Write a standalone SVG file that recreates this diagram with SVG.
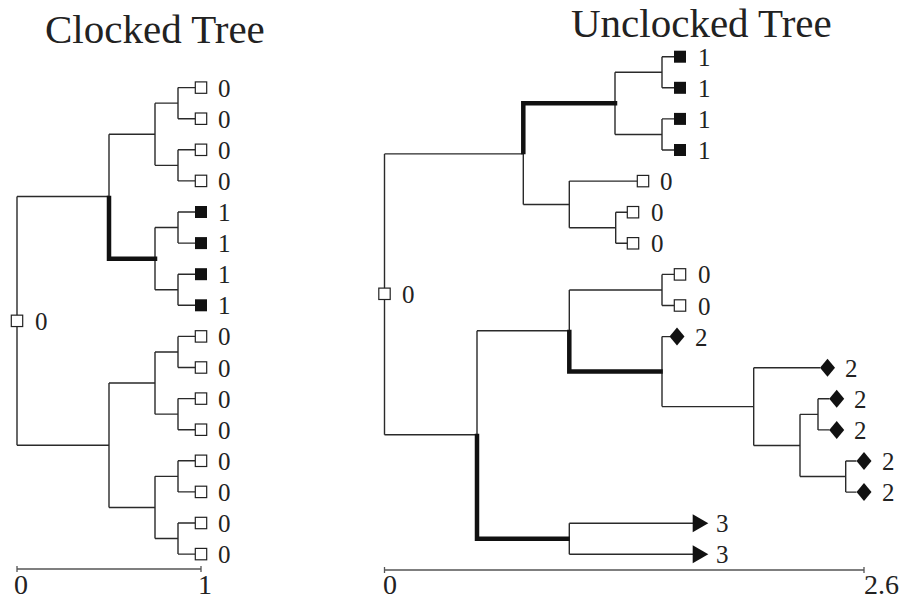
<svg xmlns="http://www.w3.org/2000/svg" width="907" height="601" viewBox="0 0 907 601">
<style>
.e{stroke:#2a2a2a;stroke-width:1.4;fill:none}
.t{stroke:#111;stroke-width:4.5;fill:none;stroke-linejoin:miter;stroke-linecap:square}
.ax{stroke:#555;stroke-width:1.3;fill:none}
.ob{fill:#fff;stroke:#222;stroke-width:1.2}
.fb{fill:#111}
.lbl{font-family:"Liberation Serif","DejaVu Serif",serif;font-size:25px;fill:#222}
.axl{font-family:"Liberation Serif","DejaVu Serif",serif;font-size:28px;fill:#222}
.ttl{font-family:"Liberation Serif","DejaVu Serif",serif;font-size:41px;fill:#222}
</style>
<defs>
<rect id="ob" class="ob" x="-5.7" y="-5.7" width="11.4" height="11.4"/>
<rect id="fb" class="fb" x="-6" y="-6" width="12" height="12"/>
<polygon id="dm" class="fb" points="0,-9 7.5,0 0,9 -7.5,0"/>
<polygon id="tr" class="fb" points="0,-9 15.6,0 0,9"/>
</defs>

<text class="ttl" x="45" y="43">Clocked Tree</text>
<text class="ttl" x="571" y="37">Unclocked Tree</text>

<g id="connectors">
<!-- left tree -->
<path class="e" d="M17 196.45V445.25M17 196.45H109M17 445.25H109"/>
<path class="e" d="M109 134.25V258.65M109 134.25H155M109 383.05V507.45M109 383.05H155M109 507.45H155"/>
<path class="e" d="M155 103.15V165.35M155 103.15H178M155 165.35H178"/>
<path class="e" d="M155 227.55V289.75M155 227.55H178M155 289.75H178"/>
<path class="e" d="M155 351.95V414.15M155 351.95H178M155 414.15H178"/>
<path class="e" d="M155 476.35V538.55M155 476.35H178M155 538.55H178"/>
<path class="e" d="M178 87.6V118.7M178 87.6H195.3M178 118.7H195.3M178 149.8V180.9M178 149.8H195.3M178 180.9H195.3"/>
<path class="e" d="M178 212V243.1M178 212H195.3M178 243.1H195.3M178 274.2V305.3M178 274.2H195.3M178 305.3H195.3"/>
<path class="e" d="M178 336.4V367.5M178 336.4H195.3M178 367.5H195.3M178 398.6V429.7M178 398.6H195.3M178 429.7H195.3"/>
<path class="e" d="M178 460.8V491.9M178 460.8H195.3M178 491.9H195.3M178 523V554.1M178 523H195.3M178 554.1H195.3"/>
<path class="t" d="M109 198V258.65H155"/>
<!-- right tree -->
<path class="e" d="M384.5 153.9V434.8M384.5 153.9H523.3M384.5 434.8H477"/>
<path class="e" d="M523.3 103.35V204.45M523.3 204.45H569.3"/>
<path class="e" d="M615 72.25V134.45M615 72.25H662M615 134.45H662"/>
<path class="e" d="M662 56.7V87.8M662 56.7H674M662 87.8H674M662 118.9V150M662 118.9H674M662 150H674"/>
<path class="e" d="M569.3 181.1V227.75M569.3 181.1H637.5M569.3 227.75H615.7"/>
<path class="e" d="M615.7 212.2V243.3M615.7 212.2H627.5M615.7 243.3H627.5"/>
<path class="e" d="M477 330.8V538.8M477 330.8H569.3"/>
<path class="e" d="M569.3 289.95V371.6M569.3 289.95H662"/>
<path class="e" d="M662 274.4V305.5M662 274.4H674.5M662 305.5H674.5"/>
<path class="e" d="M662 336.6V406.6M662 336.6H670M662 406.6H753.7"/>
<path class="e" d="M753.7 367.7V445.45M753.7 367.7H820M753.7 445.45H800"/>
<path class="e" d="M800 414.35V476.55M800 414.35H818M800 476.55H845.7"/>
<path class="e" d="M818 398.8V429.9M818 398.8H829.5M818 429.9H829.5"/>
<path class="e" d="M845.7 461V492.1M845.7 461H856.5M845.7 492.1H856.5"/>
<path class="e" d="M569.3 523.2V554.3M569.3 523.2H693M569.3 554.3H693"/>
<path class="t" d="M523.3 152V103.35H615"/>
<path class="t" d="M477 436V538.8H567.5"/>
<path class="t" d="M569.3 332V371.6H660.5"/>
</g>

<g id="left-root"><use href="#ob" x="17" y="320.85"/><text class="lbl" x="35" y="330">0</text></g>
<g id="left-leaves" class="lbl">
<g id="L0"><use href="#ob" x="201" y="87.6"/><text x="218" y="96.6">0</text></g>
<g id="L1"><use href="#ob" x="201" y="118.7"/><text x="218" y="127.7">0</text></g>
<g id="L2"><use href="#ob" x="201" y="149.8"/><text x="218" y="158.8">0</text></g>
<g id="L3"><use href="#ob" x="201" y="180.9"/><text x="218" y="189.9">0</text></g>
<g id="L4"><use href="#fb" x="201" y="212"/><text x="218" y="221">1</text></g>
<g id="L5"><use href="#fb" x="201" y="243.1"/><text x="218" y="252.1">1</text></g>
<g id="L6"><use href="#fb" x="201" y="274.2"/><text x="218" y="283.2">1</text></g>
<g id="L7"><use href="#fb" x="201" y="305.3"/><text x="218" y="314.3">1</text></g>
<g id="L8"><use href="#ob" x="201" y="336.4"/><text x="218" y="345.4">0</text></g>
<g id="L9"><use href="#ob" x="201" y="367.5"/><text x="218" y="376.5">0</text></g>
<g id="L10"><use href="#ob" x="201" y="398.6"/><text x="218" y="407.6">0</text></g>
<g id="L11"><use href="#ob" x="201" y="429.7"/><text x="218" y="438.7">0</text></g>
<g id="L12"><use href="#ob" x="201" y="460.8"/><text x="218" y="469.8">0</text></g>
<g id="L13"><use href="#ob" x="201" y="491.9"/><text x="218" y="500.9">0</text></g>
<g id="L14"><use href="#ob" x="201" y="523"/><text x="218" y="532">0</text></g>
<g id="L15"><use href="#ob" x="201" y="554.1"/><text x="218" y="563.1">0</text></g>
</g>

<g id="right-root"><use href="#ob" x="384.5" y="293.8"/><text class="lbl" x="402" y="302.5">0</text></g>
<g id="right-leaves" class="lbl">
<g id="R0"><use href="#fb" x="680" y="56.7"/><text x="698" y="65.7">1</text></g>
<g id="R1"><use href="#fb" x="680" y="87.8"/><text x="698" y="96.8">1</text></g>
<g id="R2"><use href="#fb" x="680" y="118.9"/><text x="698" y="127.9">1</text></g>
<g id="R3"><use href="#fb" x="680" y="150"/><text x="698" y="159">1</text></g>
<g id="R4"><use href="#ob" x="643" y="181.1"/><text x="660" y="190.1">0</text></g>
<g id="R5"><use href="#ob" x="633" y="212.2"/><text x="651" y="221.2">0</text></g>
<g id="R6"><use href="#ob" x="633" y="243.3"/><text x="651" y="252.3">0</text></g>
<g id="R7"><use href="#ob" x="680" y="274.4"/><text x="698" y="283.4">0</text></g>
<g id="R8"><use href="#ob" x="680" y="305.5"/><text x="698" y="314.5">0</text></g>
<g id="R9"><use href="#dm" x="677" y="336.6"/><text x="695" y="345.6">2</text></g>
<g id="R10"><use href="#dm" x="827.5" y="367.7"/><text x="845" y="376.7">2</text></g>
<g id="R11"><use href="#dm" x="836.7" y="398.8"/><text x="854" y="407.8">2</text></g>
<g id="R12"><use href="#dm" x="836.7" y="429.9"/><text x="854" y="438.9">2</text></g>
<g id="R13"><use href="#dm" x="864" y="461"/><text x="882" y="470">2</text></g>
<g id="R14"><use href="#dm" x="864" y="492.1"/><text x="882" y="501.1">2</text></g>
<g id="R15"><use href="#tr" x="692.7" y="523.2"/><text x="716" y="532.2">3</text></g>
<g id="R16"><use href="#tr" x="692.7" y="554.3"/><text x="716" y="563.3">3</text></g>
</g>

<g id="axes">
<path class="ax" d="M17 569H201M17 566V572M201 566V572"/>
<path class="ax" d="M384.5 570H864M384.5 567V573M864 567V573"/>
<text class="axl" x="14" y="594">0</text>
<text class="axl" x="198" y="594">1</text>
<text class="axl" x="383" y="594">0</text>
<text class="axl" x="864" y="594">2.6</text>
</g>
</svg>
